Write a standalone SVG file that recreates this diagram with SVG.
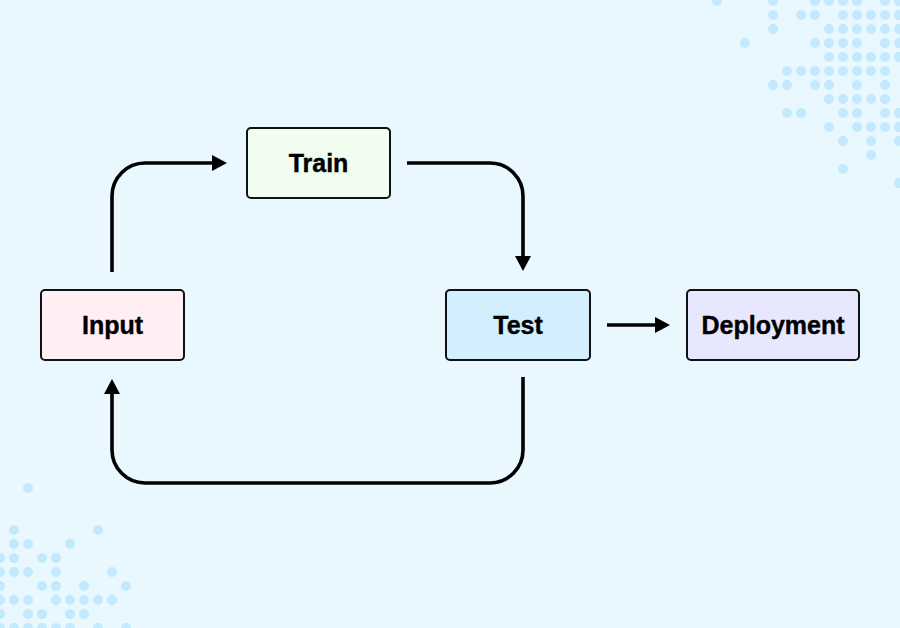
<svg xmlns="http://www.w3.org/2000/svg" width="900" height="628" viewBox="0 0 900 628">
<style>
.dot{fill:#c2e9fd}
.box{stroke:#111;stroke-width:2}
.lbl{font-family:"Liberation Sans",Arial,sans-serif;font-weight:700;font-size:25px;fill:#000;text-anchor:middle;stroke:#000;stroke-width:0.4}
.conn{fill:none;stroke:#000;stroke-width:3.6}
</style>
<defs>
<marker id="ah" markerUnits="userSpaceOnUse" markerWidth="16" markerHeight="16" refX="1" refY="8" orient="auto" viewBox="0 0 16 16">
<path d="M0,0 L15,8 L0,16 Z" fill="#000"/>
</marker>
</defs>
<rect width="900" height="628" fill="#e9f7fe"/>
<g id="dots-top-right">
<circle class="dot" cx="717" cy="1" r="5"/><circle class="dot" cx="773" cy="1" r="5"/><circle class="dot" cx="815" cy="1" r="5"/><circle class="dot" cx="829" cy="1" r="5"/><circle class="dot" cx="843" cy="1" r="5"/><circle class="dot" cx="857" cy="1" r="5"/><circle class="dot" cx="885" cy="1" r="5"/><circle class="dot" cx="899" cy="1" r="5"/>
<circle class="dot" cx="773" cy="15" r="5"/><circle class="dot" cx="801" cy="15" r="5"/><circle class="dot" cx="815" cy="15" r="5"/><circle class="dot" cx="843" cy="15" r="5"/><circle class="dot" cx="857" cy="15" r="5"/><circle class="dot" cx="871" cy="15" r="5"/><circle class="dot" cx="885" cy="15" r="5"/><circle class="dot" cx="899" cy="15" r="5"/>
<circle class="dot" cx="773" cy="29" r="5"/><circle class="dot" cx="829" cy="29" r="5"/><circle class="dot" cx="843" cy="29" r="5"/><circle class="dot" cx="857" cy="29" r="5"/><circle class="dot" cx="871" cy="29" r="5"/><circle class="dot" cx="885" cy="29" r="5"/><circle class="dot" cx="899" cy="29" r="5"/>
<circle class="dot" cx="745" cy="43" r="5"/><circle class="dot" cx="815" cy="43" r="5"/><circle class="dot" cx="829" cy="43" r="5"/><circle class="dot" cx="843" cy="43" r="5"/><circle class="dot" cx="857" cy="43" r="5"/><circle class="dot" cx="885" cy="43" r="5"/><circle class="dot" cx="899" cy="43" r="5"/>
<circle class="dot" cx="829" cy="57" r="5"/><circle class="dot" cx="843" cy="57" r="5"/><circle class="dot" cx="857" cy="57" r="5"/><circle class="dot" cx="871" cy="57" r="5"/><circle class="dot" cx="885" cy="57" r="5"/><circle class="dot" cx="899" cy="57" r="5"/>
<circle class="dot" cx="787" cy="71" r="5"/><circle class="dot" cx="801" cy="71" r="5"/><circle class="dot" cx="815" cy="71" r="5"/><circle class="dot" cx="829" cy="71" r="5"/><circle class="dot" cx="843" cy="71" r="5"/><circle class="dot" cx="857" cy="71" r="5"/><circle class="dot" cx="871" cy="71" r="5"/><circle class="dot" cx="885" cy="71" r="5"/>
<circle class="dot" cx="773" cy="85" r="5"/><circle class="dot" cx="787" cy="85" r="5"/><circle class="dot" cx="815" cy="85" r="5"/><circle class="dot" cx="829" cy="85" r="5"/><circle class="dot" cx="857" cy="85" r="5"/><circle class="dot" cx="885" cy="85" r="5"/>
<circle class="dot" cx="829" cy="99" r="5"/><circle class="dot" cx="843" cy="99" r="5"/><circle class="dot" cx="857" cy="99" r="5"/><circle class="dot" cx="871" cy="99" r="5"/><circle class="dot" cx="885" cy="99" r="5"/>
<circle class="dot" cx="787" cy="113" r="5"/><circle class="dot" cx="801" cy="113" r="5"/><circle class="dot" cx="843" cy="113" r="5"/><circle class="dot" cx="857" cy="113" r="5"/><circle class="dot" cx="885" cy="113" r="5"/><circle class="dot" cx="899" cy="113" r="5"/>
<circle class="dot" cx="829" cy="127" r="5"/><circle class="dot" cx="857" cy="127" r="5"/><circle class="dot" cx="871" cy="127" r="5"/><circle class="dot" cx="885" cy="127" r="5"/><circle class="dot" cx="899" cy="127" r="5"/>
<circle class="dot" cx="843" cy="141" r="5"/><circle class="dot" cx="871" cy="141" r="5"/><circle class="dot" cx="899" cy="141" r="5"/>
<circle class="dot" cx="871" cy="155" r="5"/>
<circle class="dot" cx="843" cy="169" r="5"/>
<circle class="dot" cx="899" cy="183" r="5"/>
</g>
<g id="dots-bottom-left">
<circle class="dot" cx="28" cy="488" r="5"/>
<circle class="dot" cx="14" cy="530" r="5"/><circle class="dot" cx="98" cy="530" r="5"/>
<circle class="dot" cx="14" cy="544" r="5"/><circle class="dot" cx="28" cy="544" r="5"/><circle class="dot" cx="70" cy="544" r="5"/>
<circle class="dot" cx="0" cy="558" r="5"/><circle class="dot" cx="14" cy="558" r="5"/><circle class="dot" cx="42" cy="558" r="5"/><circle class="dot" cx="56" cy="558" r="5"/>
<circle class="dot" cx="0" cy="572" r="5"/><circle class="dot" cx="14" cy="572" r="5"/><circle class="dot" cx="28" cy="572" r="5"/><circle class="dot" cx="56" cy="572" r="5"/><circle class="dot" cx="112" cy="572" r="5"/>
<circle class="dot" cx="0" cy="586" r="5"/><circle class="dot" cx="42" cy="586" r="5"/><circle class="dot" cx="56" cy="586" r="5"/><circle class="dot" cx="84" cy="586" r="5"/><circle class="dot" cx="126" cy="586" r="5"/>
<circle class="dot" cx="0" cy="600" r="5"/><circle class="dot" cx="14" cy="600" r="5"/><circle class="dot" cx="28" cy="600" r="5"/><circle class="dot" cx="56" cy="600" r="5"/><circle class="dot" cx="70" cy="600" r="5"/><circle class="dot" cx="84" cy="600" r="5"/><circle class="dot" cx="98" cy="600" r="5"/><circle class="dot" cx="112" cy="600" r="5"/>
<circle class="dot" cx="0" cy="614" r="5"/><circle class="dot" cx="28" cy="614" r="5"/><circle class="dot" cx="42" cy="614" r="5"/><circle class="dot" cx="70" cy="614" r="5"/><circle class="dot" cx="84" cy="614" r="5"/>
<circle class="dot" cx="0" cy="628" r="5"/><circle class="dot" cx="14" cy="628" r="5"/><circle class="dot" cx="28" cy="628" r="5"/><circle class="dot" cx="42" cy="628" r="5"/><circle class="dot" cx="56" cy="628" r="5"/><circle class="dot" cx="70" cy="628" r="5"/><circle class="dot" cx="98" cy="628" r="5"/><circle class="dot" cx="126" cy="628" r="5"/>
</g>
<g id="connectors">
<path class="conn" d="M112,272 V196 A33,33 0 0 1 145,163 H213" marker-end="url(#ah)"/>
<path class="conn" d="M407,163 H490 A33,33 0 0 1 523,196 V257" marker-end="url(#ah)"/>
<path class="conn" d="M607,325 H656" marker-end="url(#ah)"/>
<path class="conn" d="M523,377 V450 A33,33 0 0 1 490,483 H145 A33,33 0 0 1 112,450 V393" marker-end="url(#ah)"/>
</g>
<g id="node-input">
<rect class="box" x="41" y="290" width="143" height="70" rx="4" fill="#ffeff3"/>
<text class="lbl" x="112.5" y="334">Input</text>
</g>
<g id="node-train">
<rect class="box" x="247" y="128" width="143" height="70" rx="4" fill="#f1fdee"/>
<text class="lbl" x="318.5" y="172">Train</text>
</g>
<g id="node-test">
<rect class="box" x="446" y="290" width="144" height="70" rx="4" fill="#d3eefd"/>
<text class="lbl" x="518" y="334">Test</text>
</g>
<g id="node-deployment">
<rect class="box" x="687" y="290" width="172" height="70" rx="4" fill="#e7e8fe"/>
<text class="lbl" x="773" y="334">Deployment</text>
</g>
</svg>
